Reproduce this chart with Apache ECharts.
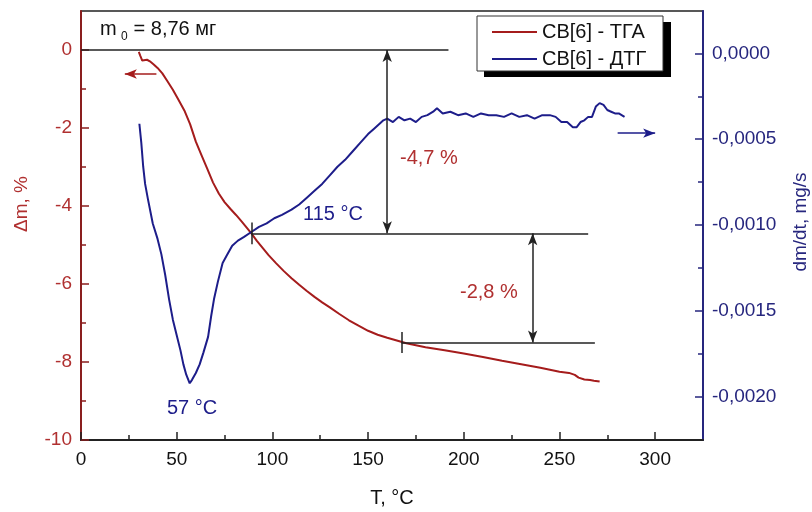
<!DOCTYPE html>
<html><head><meta charset="utf-8">
<script src="https://cdn.jsdelivr.net/npm/echarts@6/dist/echarts.min.js"></script>
<style>html,body{margin:0;padding:0;background:#fff}#c{width:812px;height:512px}</style>
</head><body><div id="c"></div>
<script>
// ---- data ----
const tempTicks = [0, 50, 100, 150, 200, 250, 300];
const tempMinorTicks = [25, 75, 125, 175, 225, 275];
const massTicks = [-10, -8, -6, -4, -2, 0];
const massMinorTicks = [-9, -7, -5, -3, -1];
const rateTicks = [-0.002, -0.0015, -0.001, -0.0005, 0];
const rateMinorTicks = [-0.00175, -0.00125, -0.00075, -0.00025];

const tgaName = 'СВ[6] - ТГА';
const dtgName = 'СВ[6] - ДТГ';

const tgaT = [30.2,31,32,33,34.5,36,38,40,42.5,45,48,51,54,57,60,63,66,69,72,75,78,81,84,87,89,92,95,98,102,106,110,114,118,122,126,130,135,140,145,150,155,160,165,170,175,180,190,200,210,220,230,240,250,255,258,260,263,266,268,271];
const tgaMass = [-0.05,-0.15,-0.27,-0.24,-0.25,-0.29,-0.37,-0.46,-0.6,-0.79,-1.02,-1.28,-1.55,-1.9,-2.35,-2.7,-3.05,-3.4,-3.68,-3.9,-4.07,-4.23,-4.4,-4.58,-4.7,-4.9,-5.08,-5.26,-5.47,-5.67,-5.85,-6.02,-6.18,-6.33,-6.47,-6.6,-6.77,-6.93,-7.07,-7.2,-7.3,-7.38,-7.45,-7.52,-7.57,-7.62,-7.7,-7.78,-7.87,-7.97,-8.06,-8.15,-8.25,-8.28,-8.33,-8.4,-8.45,-8.46,-8.48,-8.5];

const dtgT = [30.5,31.5,32.5,33.5,35,37.5,40,42,44,46,48,50,52,53.5,55,56.8,58,60,62,64,66.4,68,69.5,71.5,74,76,79,82,85,89,93,97,101,105,110,114,118,122,126,130,134,138,142,146,150,153,156,158,160,163,166,169,172,175,178,181,184,186,189,193,197,201,205,209,213,217,221,225,229,233,237,241,245,248,251,254,257,259,261,263,265,267,269,271,273,275,277,279,281,284];
const dtgRate = [-0.00041,-0.00052,-0.00066,-0.00076,-0.00085,-0.00099,-0.00108,-0.00117,-0.00129,-0.00143,-0.00155,-0.00164,-0.00173,-0.00181,-0.00187,-0.00192,-0.0019,-0.00186,-0.00181,-0.00174,-0.00165,-0.00153,-0.00143,-0.00133,-0.00122,-0.00118,-0.00112,-0.00109,-0.00107,-0.00104,-0.00101,-0.00099,-0.00096,-0.00094,-0.00091,-0.00088,-0.00084,-0.0008,-0.00076,-0.00071,-0.00066,-0.00062,-0.00057,-0.00052,-0.00047,-0.00044,-0.00041,-0.00039,-0.00038,-0.0004,-0.00037,-0.00039,-0.00038,-0.0004,-0.00037,-0.00036,-0.00034,-0.00032,-0.00035,-0.00034,-0.00036,-0.00035,-0.00037,-0.00035,-0.00036,-0.00036,-0.00037,-0.00035,-0.00037,-0.00036,-0.00038,-0.00036,-0.00036,-0.00037,-0.0004,-0.0004,-0.00043,-0.00043,-0.0004,-0.00039,-0.00037,-0.00037,-0.00031,-0.00029,-0.0003,-0.00033,-0.00034,-0.00035,-0.00035,-0.00037];

// annotation geometry in data units
const guideLines = [[[0, 0], [192, 0]], [[89, -4.7], [265, -4.7]], [[167.5, -7.5], [268.5, -7.5]], [[89, -4.42], [89, -4.98]], [[167.5, -7.23], [167.5, -7.77]]];
const guideArrows = [[[160, 0], [160, -4.7]], [[236, -4.7], [236, -7.5]]];
const tgaPointer = [[39.4, -0.615], [22.9, -0.615]];
const dtgPointer = [[280.4, -0.000465], [300, -0.000465]];

// ---- chart ----
const FONT = 'Liberation Sans, Arial, sans-serif';
const RED = '#a51c1c', RED_AX = '#8a1e1e', RED_TXT = '#b03030';
const BLUE = '#1d1d8a', BLUE_AX = '#26267e';
const INK = '#222';

const pairs = (xs, ys) => xs.map((x, i) => [x, ys[i]]);
const fmtRate = v => (Math.abs(v) < 1e-12 ? 0 : v).toFixed(4).replace('.', ',');

const plainLine = seg => [{coord: seg[0], symbol: 'none'}, {coord: seg[1], symbol: 'none'}];
const dblArrow = seg => [{coord: seg[0], symbol: 'arrow', symbolSize: [7, 12]}, {coord: seg[1], symbol: 'arrow', symbolSize: [7, 12]}];
const oneArrow = seg => [{coord: seg[0], symbol: 'none'}, {coord: seg[1], symbol: 'arrow', symbolSize: [7, 12]}];

const xAx = (ticks, len, showLine, showLabel) => ({
  type: 'value', min: 0, max: 325, position: 'bottom',
  axisLine: {show: showLine, onZero: false, lineStyle: {color: INK, width: 2}},
  axisTick: {show: true, inside: true, length: len, customValues: ticks, lineStyle: {color: INK, width: 1.5}},
  axisLabel: showLabel ? {customValues: ticks, color: '#111', fontSize: 19, fontFamily: FONT, margin: 10} : {show: false},
  splitLine: {show: false}
});
const yAx = (min, max, pos, color, ticks, len, showLine, label) => ({
  type: 'value', min: min, max: max, position: pos,
  axisLine: {show: showLine, onZero: false, lineStyle: {color: color, width: 2}},
  axisTick: {show: true, inside: true, length: len, customValues: ticks, lineStyle: {color: color, width: 1.5}},
  axisLabel: label || {show: false},
  splitLine: {show: false}
});

const chart = echarts.init(document.getElementById('c'), null, {renderer: 'canvas'});
const option = {
  animation: false,
  textStyle: {fontFamily: FONT},
  grid: {left: 81, right: 109, top: 11, bottom: 72, show: true, borderColor: INK, borderWidth: 1.5, backgroundColor: 'transparent'},
  legend: {
    orient: 'vertical', left: 491, top: 22, padding: 0, itemWidth: 45, itemHeight: 18, itemGap: 7, z: 20,
    data: [tgaName, dtgName],
    itemStyle: {opacity: 0},
    textStyle: {fontFamily: FONT, fontSize: 20, color: '#111'},
    selectedMode: false
  },
  xAxis: [
    xAx(tempTicks, 8, true, true),
    xAx(tempMinorTicks, 5, false, false)
  ],
  yAxis: [
    yAx(-10, 1, 'left', RED_AX, massTicks, 8, true,
        {customValues: massTicks, color: RED_TXT, fontSize: 19, fontFamily: FONT, margin: 9}),
    yAx(-0.00225, 0.000246, 'right', BLUE_AX, rateTicks, 8, true,
        {customValues: rateTicks, color: BLUE_AX, fontSize: 19, fontFamily: FONT, margin: 9, formatter: fmtRate}),
    yAx(-10, 1, 'left', RED_AX, massMinorTicks, 5, false, null),
    yAx(-0.00225, 0.000246, 'right', BLUE_AX, rateMinorTicks, 5, false, null)
  ],
  series: [
    {name: tgaName, type: 'line', xAxisIndex: 0, yAxisIndex: 0, data: pairs(tgaT, tgaMass),
     showSymbol: false, symbol: 'none', z: 3,
     lineStyle: {color: RED, width: 2}, itemStyle: {color: RED},
     markLine: {silent: true, animation: false, label: {show: false}, symbol: ['none', 'none'],
       lineStyle: {color: INK, width: 1.5, type: 'solid'},
       data: guideLines.map(plainLine).concat(guideArrows.map(dblArrow))}},
    {name: 'tgaPointer', type: 'line', xAxisIndex: 0, yAxisIndex: 0, data: [], z: 3,
     markLine: {silent: true, animation: false, label: {show: false}, symbol: ['none', 'none'],
       lineStyle: {color: RED, width: 1.5, type: 'solid'}, itemStyle: {color: RED},
       data: [oneArrow(tgaPointer)]}},
    {name: dtgName, type: 'line', xAxisIndex: 0, yAxisIndex: 1, data: pairs(dtgT, dtgRate),
     showSymbol: false, symbol: 'none', z: 3,
     lineStyle: {color: BLUE, width: 2}, itemStyle: {color: BLUE},
     markLine: {silent: true, animation: false, label: {show: false}, symbol: ['none', 'none'],
       lineStyle: {color: BLUE, width: 1.5, type: 'solid'},
       data: [oneArrow(dtgPointer)]}}
  ],
  graphic: [
    {type: 'rect', z: 10, shape: {x: 484, y: 22, width: 187, height: 55}, style: {fill: '#000'}},
    {type: 'rect', z: 11, shape: {x: 477, y: 16, width: 186, height: 55}, style: {fill: '#fff', stroke: '#333', lineWidth: 1}},
    {type: 'text', z: 12, left: 100, top: 19, style: {text: 'm', font: '20px ' + FONT, fill: '#111'}},
    {type: 'text', z: 12, left: 121, top: 31, style: {text: '0', font: '12px ' + FONT, fill: '#111'}},
    {type: 'text', z: 12, left: 128, top: 19, style: {text: ' = 8,76 мг', font: '20px ' + FONT, fill: '#111'}},
    {type: 'text', z: 12, left: 400, top: 148, style: {text: '-4,7 %', font: '20px ' + FONT, fill: RED_TXT}},
    {type: 'text', z: 12, left: 460, top: 282, style: {text: '-2,8 %', font: '20px ' + FONT, fill: RED_TXT}},
    {type: 'text', z: 12, left: 303, top: 204, style: {text: '115 °C', font: '20px ' + FONT, fill: BLUE}},
    {type: 'text', z: 12, left: 167, top: 398, style: {text: '57 °C', font: '20px ' + FONT, fill: BLUE}},
    {type: 'text', z: 12, x: 22, y: 204, rotation: Math.PI / 2, style: {text: 'Δm, %', font: '19px ' + FONT, fill: RED_TXT, align: 'center', verticalAlign: 'middle'}},
    {type: 'text', z: 12, x: 801, y: 222, rotation: Math.PI / 2, style: {text: 'dm/dt, mg/s', font: '19px ' + FONT, fill: BLUE_AX, align: 'center', verticalAlign: 'middle'}},
    {type: 'text', z: 12, x: 392, y: 498, style: {text: 'T, °C', font: '20px ' + FONT, fill: '#111', align: 'center', verticalAlign: 'middle'}}
  ]
};
chart.setOption(option);
</script></body></html>
